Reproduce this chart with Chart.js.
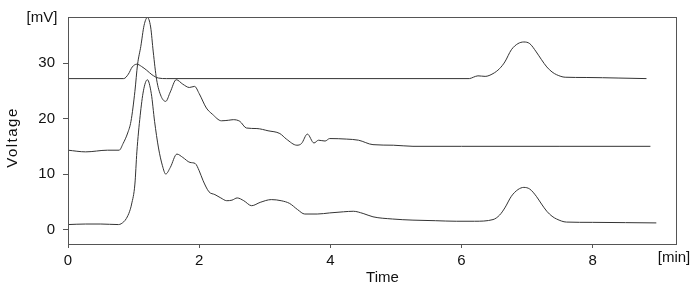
<!DOCTYPE html>
<html>
<head>
<meta charset="utf-8">
<script src="https://cdn.jsdelivr.net/npm/chart.js@4"></script>
<style>
  html, body { margin: 0; padding: 0; background: #fff; }
  #wrap { width: 700px; height: 293px; }
</style>
</head>
<body>
<div id="wrap"><canvas id="chromChart" width="700" height="293"></canvas></div>
<script>
// Valores (tiempo en min, voltaje en mV)
const xTicks = [0, 2, 4, 6, 8];
const yTicks = [0, 10, 20, 30];

const timeTop = [0, 0.85, 0.92, 0.98, 1.05, 1.12, 1.2, 1.28, 1.38, 1.5, 6.12, 6.18, 6.25, 6.36, 6.48, 6.58, 6.66, 6.76, 6.86, 6.95, 7.04, 7.14, 7.22, 7.3, 7.38, 7.45, 7.58, 7.9, 8.4, 8.82];
const voltTop = [27.2, 27.2, 28.0, 29.3, 29.8, 29.4, 28.7, 27.9, 27.3, 27.2, 27.2, 27.45, 27.7, 27.6, 28.1, 29.0, 30.2, 32.4, 33.5, 33.8, 33.5, 32.0, 30.6, 29.3, 28.4, 27.9, 27.45, 27.4, 27.3, 27.2];

const timeMid = [0, 0.27, 0.6, 0.78, 0.84, 0.91, 0.96, 1.02, 1.06, 1.11, 1.16, 1.21, 1.26, 1.30, 1.35, 1.42, 1.49, 1.56, 1.65, 1.75, 1.85, 1.93, 2.0, 2.11, 2.2, 2.34, 2.45, 2.52, 2.62, 2.72, 2.88, 3.05, 3.23, 3.33, 3.49, 3.56, 3.65, 3.75, 3.82, 3.92, 3.99, 4.25, 4.43, 4.65, 4.96, 5.26, 6.0, 7.5, 8.88];
const voltMid = [14.3, 14.0, 14.3, 14.3, 15.5, 17.4, 19.5, 24.9, 29.7, 33.0, 36.8, 38.2, 36.5, 32.0, 27.1, 24.0, 23.1, 24.8, 27.0, 26.2, 25.6, 25.8, 24.5, 21.9, 20.8, 19.6, 19.7, 19.8, 19.5, 18.3, 18.2, 17.8, 17.3, 16.3, 15.2, 15.5, 17.2, 15.6, 16.1, 15.95, 16.4, 16.3, 16.1, 15.3, 15.2, 15.0, 15.0, 15.0, 15.0];

const timeLow = [0, 0.27, 0.5, 0.77, 0.85, 0.89, 0.94, 0.97, 1.02, 1.05, 1.1, 1.15, 1.21, 1.27, 1.32, 1.38, 1.44, 1.49, 1.56, 1.66, 1.75, 1.86, 1.94, 2.0, 2.06, 2.15, 2.24, 2.33, 2.42, 2.5, 2.58, 2.68, 2.8, 2.93, 3.1, 3.25, 3.38, 3.5, 3.61, 3.8, 3.99, 4.2, 4.35, 4.5, 4.65, 4.95, 5.26, 5.6, 5.92, 6.2, 6.48, 6.58, 6.66, 6.76, 6.86, 6.95, 7.04, 7.14, 7.22, 7.3, 7.38, 7.45, 7.6, 8.0, 8.5, 8.97];
const voltLow = [0.9, 1.0, 1.0, 0.9, 1.4, 2.0, 3.3, 4.6, 8.2, 14.0, 20.5, 25.0, 27.0, 24.5, 19.5, 14.7, 11.5, 10.0, 11.2, 13.6, 13.0, 12.1, 11.9, 10.6, 8.8, 6.8, 6.3, 5.7, 5.2, 5.3, 5.7, 5.2, 4.3, 4.9, 5.4, 5.2, 4.7, 3.6, 2.8, 2.8, 3.0, 3.2, 3.3, 2.9, 2.3, 1.9, 1.7, 1.6, 1.5, 1.5, 1.8, 2.6, 3.9, 6.0, 7.2, 7.6, 7.3, 6.0, 4.6, 3.3, 2.4, 1.9, 1.35, 1.3, 1.25, 1.2];

const series = [
  [timeTop, voltTop],
  [timeMid, voltMid],
  [timeLow, voltLow]
];

const lineColor = '#333';
const axisColor = '#555';
const font = { family: '"Liberation Sans", Arial, sans-serif', size: 15 };

const datasets = series.map(function(s) {
  return {
    data: s[0].map((t, i) => ({ x: t, y: s[1][i] })),
    borderColor: lineColor,
    borderWidth: 1,
    pointRadius: 0,
    fill: false,
    cubicInterpolationMode: 'monotone'
  };
});

// Textos de ejes y marco
const extras = {
  id: 'extras',
  afterDraw(chart) {
    const ctx = chart.ctx;
    const a = chart.chartArea;
    ctx.save();
    ctx.strokeStyle = axisColor;
    ctx.lineWidth = 1;
    ctx.strokeRect(a.left + 0.5, a.top + 0.5, a.right - a.left, a.bottom - a.top);
    ctx.fillStyle = '#111';
    ctx.font = '15px ' + font.family;
    ctx.textAlign = 'center';
    ctx.textBaseline = 'middle';
    ctx.fillText('[mV]', 42, 17.5);
    ctx.fillText('[min]', 674, 258);
    ctx.fillText('Time', 382.5, 278);
    ctx.translate(13, 137.5);
    ctx.rotate(-Math.PI / 2);
    ctx.letterSpacing = '1.5px';
    ctx.fillText('Voltage', 0, 0);
    ctx.restore();
  }
};

const ctx = document.getElementById('chromChart').getContext('2d');
const chromChart = new Chart(ctx, {
  type: 'line',
  data: { datasets: datasets },
  options: {
    responsive: false,
    animation: false,
    devicePixelRatio: 1,
    layout: { padding: { top: 15, right: 24, left: 0, bottom: 0 } },
    plugins: { legend: { display: false }, tooltip: { enabled: false } },
    scales: {
      x: {
        type: 'linear',
        min: 0,
        max: 9.27,
        afterBuildTicks: s => { s.ticks = xTicks.map(v => ({ value: v })); },
        afterFit: s => { s.height = 49; },
        grid: { drawOnChartArea: false, drawTicks: true, tickLength: 4, color: axisColor },
        border: { display: true, color: axisColor },
        ticks: { color: '#111', font: font, padding: 4, maxRotation: 0 }
      },
      y: {
        type: 'linear',
        min: -2.6,
        max: 38.3,
        afterBuildTicks: s => { s.ticks = yTicks.map(v => ({ value: v })); },
        afterFit: s => { s.width = 68; },
        grid: { drawOnChartArea: false, drawTicks: true, tickLength: 5, color: axisColor },
        border: { display: true, color: axisColor },
        ticks: { color: '#111', font: font, padding: 8 }
      }
    }
  },
  plugins: [extras]
});
</script>
</body>
</html>
